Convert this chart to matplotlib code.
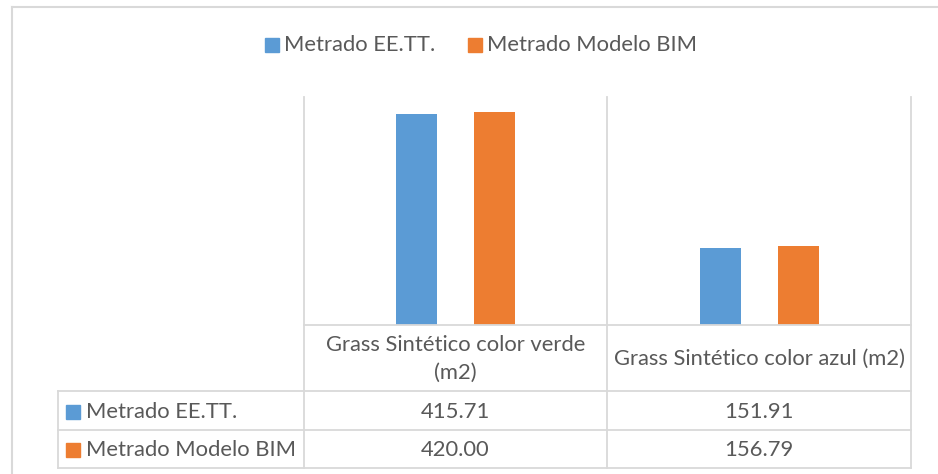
import matplotlib
matplotlib.use("Agg")
import matplotlib.pyplot as plt
from matplotlib.lines import Line2D
from matplotlib.patches import Rectangle

categories = ["Grass Sintético color verde\n(m2)", "Grass Sintético color azul (m2)"]
series_names = ["Metrado EE.TT.", "Metrado Modelo BIM"]
ee_tt = [415.71, 151.91]
modelo_bim = [420.00, 156.79]
series_values = [ee_tt, modelo_bim]
colors = ["#5B9BD5", "#ED7D31"]
text_color = "#595959"
grid_color = "#D9D9D9"

W, H = 938, 474
fig = plt.figure(figsize=(W / 100, H / 100), dpi=100)
plt.rcParams["font.family"] = ["Lato", "DejaVu Sans"]
FS = 15.8


def fx(x):
    return x / W


def fy(y):
    return 1 - y / H


# chart frame (left and top edges visible)
fig.add_artist(Line2D([fx(12), fx(12)], [fy(7), fy(474)], color=grid_color, lw=1.5))
fig.add_artist(Line2D([fx(12), fx(938)], [fy(7), fy(7)], color=grid_color, lw=1.5))

# plot area
px0, px1, py0, py1 = 304, 911, 97, 325
ax = fig.add_axes([fx(px0), fy(py1), fx(px1 - px0), (py1 - py0) / H])
n = len(categories)
bw = 0.135
off = 0.129
for i, vals in enumerate(series_values):
    xs = [k + (-off if i == 0 else off) for k in range(n)]
    ax.bar(xs, vals, width=bw, color=colors[i], zorder=3)
ax.set_xlim(-0.5, n - 0.5)
ax.set_ylim(0, 450)
ax.axis("off")

# table grid
col_x = [58, 304, 607, 911]
row_y = [325, 391, 430, 468]
lw = 1.3
for x in col_x[1:]:
    fig.add_artist(Line2D([fx(x), fx(x)], [fy(py0), fy(row_y[-1])], color=grid_color, lw=lw))
fig.add_artist(Line2D([fx(col_x[0]), fx(col_x[0])], [fy(row_y[1]), fy(row_y[-1])], color=grid_color, lw=lw))
fig.add_artist(Line2D([fx(col_x[1]), fx(col_x[-1])], [fy(row_y[0]), fy(row_y[0])], color=grid_color, lw=lw))
for y in row_y[1:]:
    fig.add_artist(Line2D([fx(col_x[0]), fx(col_x[-1])], [fy(y), fy(y)], color=grid_color, lw=lw))

# category headers
for k, cat in enumerate(categories):
    cx = (col_x[k + 1] + col_x[k + 2]) / 2
    cy = (row_y[0] + row_y[1]) / 2 + 1
    fig.text(fx(cx), fy(cy), cat, ha="center", va="center", fontsize=FS,
             color=text_color, linespacing=1.52)

# data rows
for i, name in enumerate(series_names):
    cy = (row_y[i + 1] + row_y[i + 2]) / 2 + 1
    fig.add_artist(Rectangle((fx(66), fy(cy + 7)), fx(14), 14 / H, color=colors[i]))
    fig.text(fx(86), fy(cy), name, ha="left", va="center", fontsize=FS, color=text_color)
    for k in range(n):
        cx = (col_x[k + 1] + col_x[k + 2]) / 2
        fig.text(fx(cx), fy(cy), f"{series_values[i][k]:.2f}", ha="center", va="center",
                 fontsize=FS, color=text_color)

# top legend
ly = 45
legend_x = [265, 468]
for i, name in enumerate(series_names):
    x0 = legend_x[i]
    fig.add_artist(Rectangle((fx(x0), fy(ly + 7)), fx(14), 14 / H, color=colors[i]))
    fig.text(fx(x0 + 19), fy(ly), name, ha="left", va="center", fontsize=FS, color=text_color)

fig.savefig("out.png", dpi=100, facecolor="white")
